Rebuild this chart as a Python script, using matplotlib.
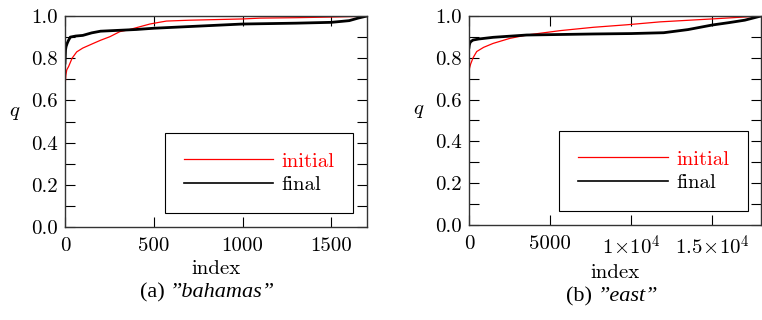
import matplotlib
matplotlib.use('Agg')
from matplotlib import pyplot as plt
from matplotlib.ticker import MultipleLocator

# bahamas: sorted q per index
bah_init_idx = [0, 5, 10, 20, 40, 66, 100, 159, 200, 253, 309, 360, 421, 478, 530, 571, 700, 850, 1000, 1100, 1300, 1500, 1650, 1700]
bah_init_q = [0.663, 0.72, 0.745, 0.76, 0.80, 0.83, 0.848, 0.87, 0.885, 0.902, 0.926, 0.935, 0.949, 0.962, 0.97, 0.976, 0.98, 0.983, 0.986, 0.99, 0.992, 0.995, 0.998, 1.0]
bah_final_idx = [0, 3, 6, 12, 20, 30, 60, 100, 150, 200, 300, 400, 500, 700, 1000, 1300, 1500, 1600, 1650, 1700]
bah_final_q = [0.777, 0.84, 0.855, 0.87, 0.885, 0.90, 0.905, 0.908, 0.92, 0.928, 0.932, 0.936, 0.942, 0.95, 0.962, 0.966, 0.97, 0.978, 0.99, 1.0]

# east
east_init_idx = [0, 30, 100, 250, 475, 900, 1490, 2520, 3560, 5620, 7670, 9730, 11790, 15000, 18000]
east_init_q = [0.733, 0.75, 0.77, 0.80, 0.83, 0.85, 0.869, 0.893, 0.909, 0.93, 0.946, 0.958, 0.972, 0.986, 1.0]
east_final_idx = [0, 20, 60, 120, 250, 600, 1490, 3560, 7670, 10000, 12000, 13500, 15000, 16000, 17000, 18000]
east_final_q = [0.85, 0.861, 0.872, 0.878, 0.885, 0.89, 0.898, 0.909, 0.914, 0.916, 0.92, 0.935, 0.957, 0.968, 0.98, 1.0]

bah_xticks = [0, 500, 1000, 1500]
bah_xlabels = ['0', '500', '1000', '1500']
east_xticks = [0, 5000, 10000, 15000]
east_xlabels = ['0', '5000', r'$1\!\times\!10^4$', r'$1.5\!\times\!10^4$']
yticks = [0.0, 0.2, 0.4, 0.6, 0.8, 1.0]
captions = ['(a) ', '(b) ']
names = ['\u201dbahamas\u201d', '\u201deast\u201d']

plt.rcParams['font.family'] = 'cmr10'
plt.rcParams['mathtext.fontset'] = 'cm'
plt.rcParams['axes.unicode_minus'] = False
plt.rcParams['font.size'] = 15

fig = plt.figure(figsize=(7.62, 3.2), dpi=100)
ax1 = fig.add_axes([0.0853, 0.2906, 0.3963, 0.6594])
ax2 = fig.add_axes([0.6155, 0.2969, 0.3832, 0.6531])

panels = [
    (ax1, bah_init_idx, bah_init_q, bah_final_idx, bah_final_q, 1700, bah_xticks, bah_xlabels),
    (ax2, east_init_idx, east_init_q, east_final_idx, east_final_q, 18000, east_xticks, east_xlabels),
]

for ax, ii, iq, fi, fq, xmax, xt, xl in panels:
    ax.plot(ii, iq, color='red', lw=0.9, label='initial')
    ax.plot(fi, fq, color='black', lw=2.0, label='final')
    ax.set_xlim(0, xmax)
    ax.set_ylim(0, 1)
    ax.set_xticks(xt)
    ax.set_xticklabels(xl)
    ax.set_yticks(yticks)
    ax.set_yticklabels(['%.1f' % v for v in yticks])
    ax.yaxis.set_minor_locator(MultipleLocator(0.1))
    ax.tick_params(which='both', direction='in', top=True, right=True, length=7, width=0.8, labelsize=15, pad=5)
    ax.tick_params(axis='x', pad=7)
    for s in ax.spines.values():
        s.set_color('#333333')
        s.set_linewidth(1.0)
    ax.set_xlabel('index', fontsize=15, labelpad=4)
    ax.set_ylabel(r'$q$', fontsize=15, rotation=0, labelpad=12)
    leg = ax.legend(loc='lower right', bbox_to_anchor=(0.955, 0.066), frameon=True, fancybox=False,
                    edgecolor='black', framealpha=1, fontsize=15, handlelength=4.3, handletextpad=0.4,
                    borderpad=0.9, labelspacing=0.25, borderaxespad=0, labelcolor='linecolor')
    leg.get_frame().set_linewidth(0.8)
    for line in leg.get_lines():
        line.set_linewidth(0.9 if line.get_color() == 'red' else 1.2)

fig.text(0.223, 0.085, captions[0], ha='right', va='center', family='Liberation Serif', fontsize=16)
fig.text(0.223, 0.085, names[0], ha='left', va='center', family='Liberation Serif', style='italic', fontsize=16)
fig.text(0.784, 0.072, captions[1], ha='right', va='center', family='Liberation Serif', fontsize=16)
fig.text(0.784, 0.072, names[1], ha='left', va='center', family='Liberation Serif', style='italic', fontsize=16)

fig.savefig('out.png', dpi=100)
